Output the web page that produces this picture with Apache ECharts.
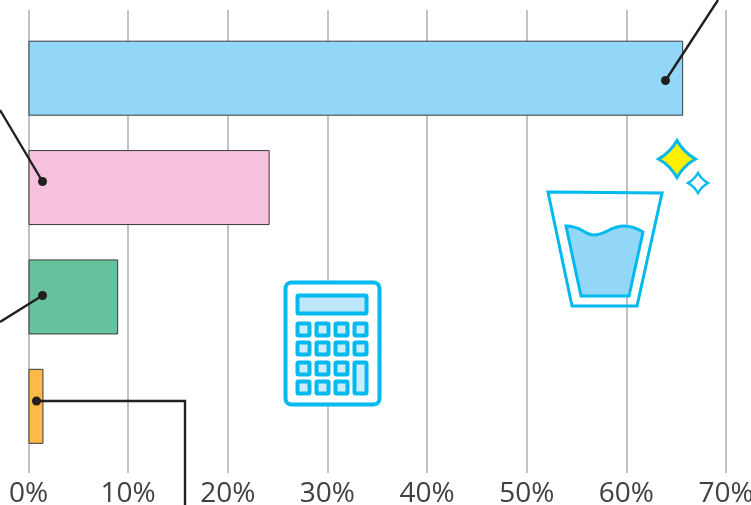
<!DOCTYPE html>
<html>
<head>
<meta charset="utf-8">
<style>html,body{margin:0;padding:0;background:#fff}#chart{width:751px;height:505px}</style>
<script src="https://cdn.jsdelivr.net/npm/echarts@6/dist/echarts.min.js"></script>
</head>
<body>
<div id="chart"></div>
<script>
const categories = ['a', 'b', 'c', 'd'];
const shares = [65.7, 24.2, 9.0, 1.5];
const barColors = ['#93d7f8', '#f6c1dc', '#66c29c', '#fdb94a'];
const xTicks = [0, 10, 20, 30, 40, 50, 60, 70];

const blue = '#00b9ef';
const ink = '#231f20';

// leader lines and their dots
const leaders = [
    [[665.5, 80.5], [718, 0]],
    [[42.5, 181.5], [0, 110]],
    [[42.5, 295.5], [0, 322]],
    [[36.5, 401], [185, 401], [185, 505]]
];

function star(cx, cy, r) {
    const k = r * 0.36;
    return `M${cx} ${cy - r}Q${cx + k} ${cy - k} ${cx + r} ${cy}Q${cx + k} ${cy + k} ${cx} ${cy + r}Q${cx - k} ${cy + k} ${cx - r} ${cy}Q${cx - k} ${cy - k} ${cx} ${cy - r}Z`;
}

const decor = [];
leaders.forEach(pts => {
    decor.push({type: 'polyline', shape: {points: pts}, style: {stroke: ink, lineWidth: 2.4, fill: null}});
    decor.push({type: 'circle', shape: {cx: pts[0][0], cy: pts[0][1], r: 4.5}, style: {fill: ink}});
});

// glass
decor.push({type: 'path', shape: {pathData: 'M548 192L662 193L637 306L572 306Z'},
    style: {fill: null, stroke: blue, lineWidth: 3}});
decor.push({type: 'path', shape: {pathData: 'M566 226C582 226 584 235 594 235C606 235 610 226 624 226C632 226 638 229 643 232L629 296L581 296Z'},
    style: {fill: '#93d7f8', stroke: blue, lineWidth: 3}});
decor.push({type: 'path', shape: {pathData: star(677, 159, 18.5)}, style: {fill: '#fff000', stroke: blue, lineWidth: 3}});
decor.push({type: 'path', shape: {pathData: star(698, 183, 10)}, style: {fill: '#fff', stroke: blue, lineWidth: 2.5}});

// calculator
decor.push({type: 'rect', shape: {x: 285.5, y: 282.5, width: 94, height: 122, r: 6}, style: {fill: '#fff', stroke: blue, lineWidth: 4}});
decor.push({type: 'rect', shape: {x: 297.5, y: 295.5, width: 69, height: 18, r: 1}, style: {fill: '#bde6fa', stroke: blue, lineWidth: 4}});
const keyX = [297.5, 316.5, 335.5, 354.5];
const keyY = [323.5, 342.5, 362.5, 381.5];
keyY.forEach((y, row) => keyX.forEach((x, col) => {
    if (col === 3 && row === 3) return;
    const tall = col === 3 && row === 2;
    decor.push({type: 'rect', shape: {x, y, width: 12, height: tall ? 31 : 12, r: 1},
        style: {fill: '#cdecfb', stroke: blue, lineWidth: 4}});
}));

const option = {
    animation: false,
    backgroundColor: '#fff',
    grid: [
        {left: 28.5, right: 25, top: 23.5, bottom: 44, outerBoundsMode: 'none'},
        {left: 28.5, right: 25, top: 10, bottom: 32, outerBoundsMode: 'none'}
    ],
    xAxis: [
        {gridIndex: 0, type: 'value', min: 0, max: 70, interval: 10, show: false},
        {
            gridIndex: 1, type: 'value', min: 0, max: 70, interval: 10,
            axisLine: {show: false},
            axisTick: {show: false},
            splitLine: {show: true, lineStyle: {color: '#c2c2c6', width: 2}},
            axisLabel: {
                margin: 7,
                fontSize: 28,
                fontFamily: 'Open Sans',
                color: '#414042',
                customValues: xTicks,
                formatter: '{value}%'
            }
        }
    ],
    yAxis: [
        {gridIndex: 0, type: 'category', inverse: true, data: categories, show: false},
        {gridIndex: 1, type: 'value', min: 0, max: 1, show: false}
    ],
    series: [
        {
            type: 'bar',
            xAxisIndex: 0,
            yAxisIndex: 0,
            z: 5,
            barWidth: 75,
            data: shares.map((v, i) => ({value: v, itemStyle: {color: barColors[i]}})),
            itemStyle: {borderColor: '#3a3a3c', borderWidth: 1}
        },
        {type: 'scatter', xAxisIndex: 1, yAxisIndex: 1, data: [], silent: true},
        {
            type: 'custom',
            coordinateSystem: 'none',
            z: 20,
            silent: true,
            data: [0],
            renderItem: () => ({type: 'group', children: decor})
        }
    ]
};

const myChart = echarts.init(document.getElementById('chart'));
myChart.setOption(option);
</script>
</body>
</html>
